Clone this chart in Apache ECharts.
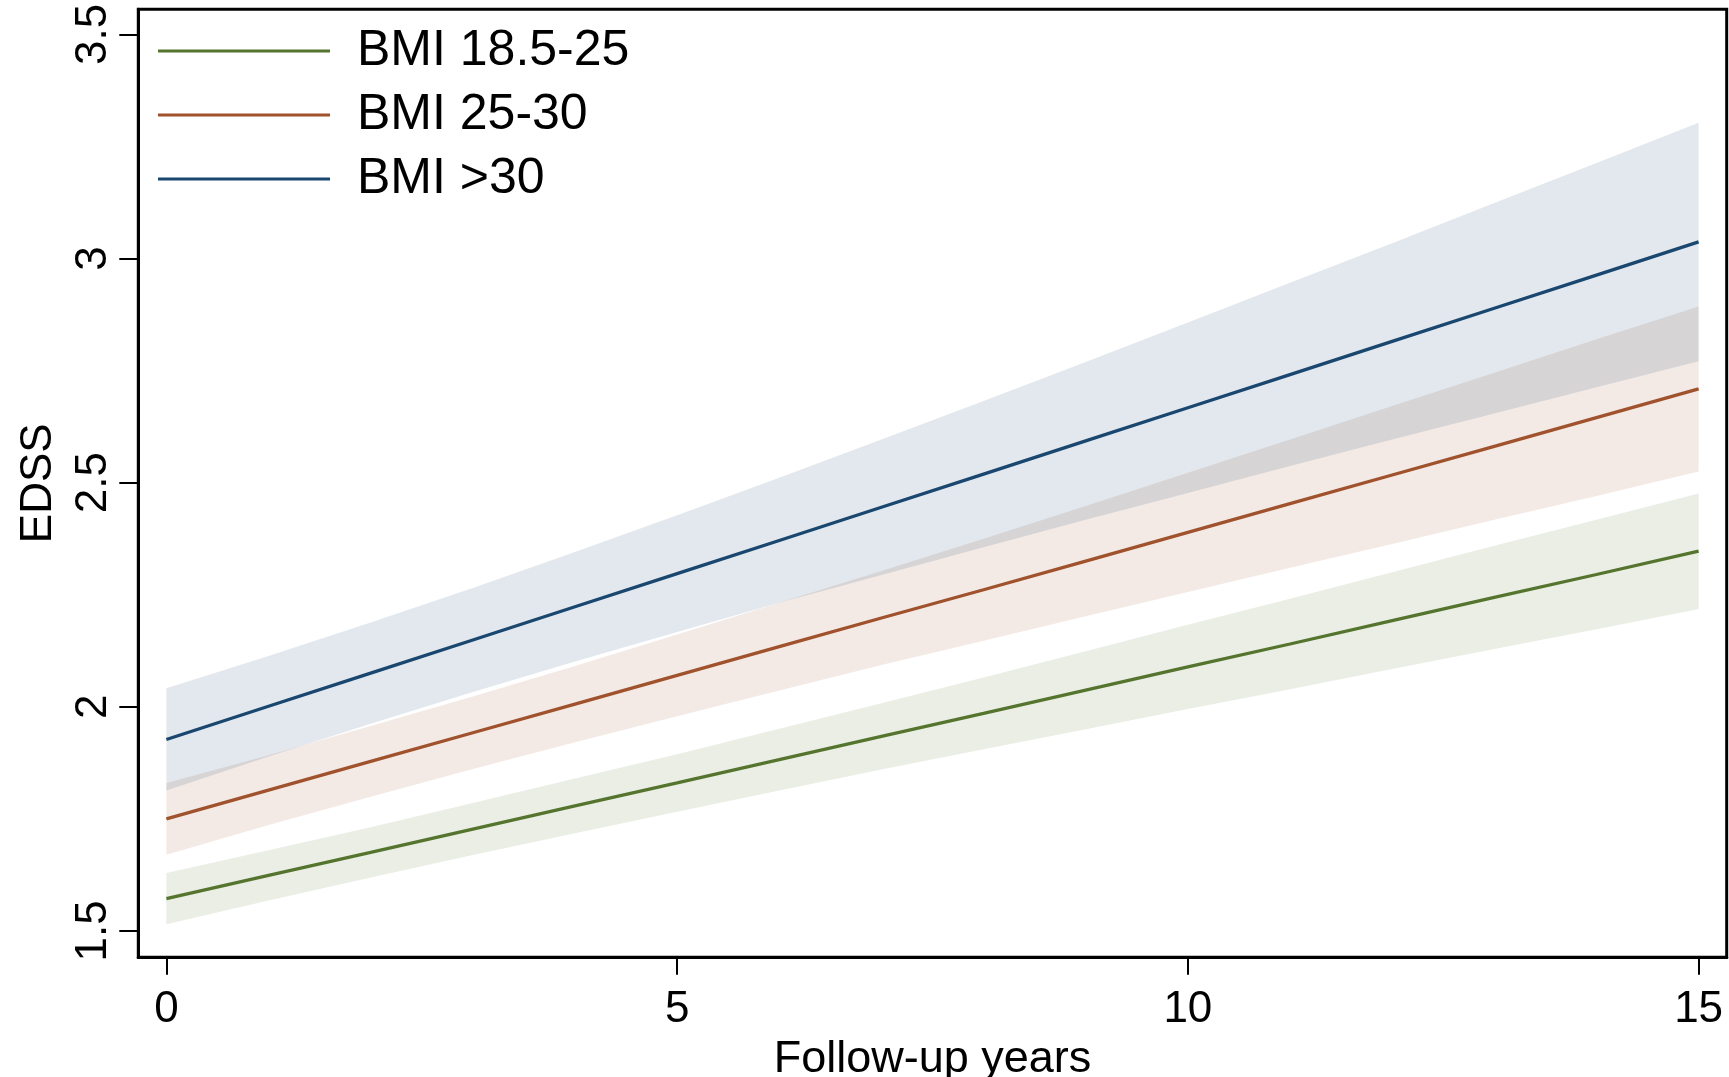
<!DOCTYPE html>
<html><head><meta charset="utf-8">
<script src="https://cdn.jsdelivr.net/npm/echarts@6/dist/echarts.min.js"></script>
<style>html,body{margin:0;padding:0;background:#fff}#c{width:1729px;height:1077px}</style>
</head><body><div id="c"></div>
<script>
// ---- data ----
const years = [0, 1, 2, 3, 4, 5, 6, 7, 8, 9, 10, 11, 12, 13, 14, 15];
const xTicks = [0, 5, 10, 15];
const yTicks = [1.5, 2, 2.5, 3, 3.5];
const seriesNames = ['BMI 18.5-25', 'BMI 25-30', 'BMI >30'];

const greenFit   = [1.572, 1.624, 1.675, 1.727, 1.779, 1.830, 1.882, 1.934, 1.985, 2.037, 2.089, 2.140, 2.192, 2.244, 2.295, 2.347];
const greenUpper = [1.629, 1.680, 1.731, 1.785, 1.840, 1.894, 1.951, 2.008, 2.065, 2.124, 2.183, 2.241, 2.300, 2.359, 2.417, 2.476];
const greenLower = [1.515, 1.568, 1.619, 1.669, 1.718, 1.766, 1.813, 1.860, 1.905, 1.950, 1.995, 2.039, 2.084, 2.129, 2.173, 2.218];

const orangeFit   = [1.750, 1.814, 1.878, 1.942, 2.006, 2.070, 2.134, 2.198, 2.261, 2.325, 2.389, 2.453, 2.517, 2.581, 2.645, 2.709];
const orangeUpper = [1.830, 1.892, 1.957, 2.023, 2.091, 2.161, 2.232, 2.303, 2.375, 2.448, 2.522, 2.596, 2.671, 2.745, 2.820, 2.893];
const orangeLower = [1.670, 1.736, 1.799, 1.861, 1.921, 1.979, 2.036, 2.093, 2.147, 2.202, 2.256, 2.310, 2.363, 2.417, 2.470, 2.525];

const blueFit   = [1.927, 2.001, 2.075, 2.149, 2.223, 2.297, 2.371, 2.445, 2.519, 2.593, 2.667, 2.741, 2.815, 2.889, 2.963, 3.037];
const blueUpper = [2.041, 2.113, 2.188, 2.265, 2.345, 2.427, 2.511, 2.596, 2.682, 2.769, 2.857, 2.946, 3.034, 3.124, 3.213, 3.303];
const blueLower = [1.813, 1.889, 1.962, 2.033, 2.101, 2.167, 2.232, 2.294, 2.356, 2.417, 2.477, 2.537, 2.596, 2.654, 2.713, 2.771];

// ---- styling ----
const FONT = '"Liberation Sans", Arial, Helvetica, sans-serif';
const GREEN = '#55752F', ORANGE = '#A0522D', BLUE = '#1A476F';
const GREEN_FILL = 'rgba(85,117,47,0.125)', ORANGE_FILL = 'rgba(160,82,45,0.125)', BLUE_FILL = 'rgba(26,71,111,0.125)';

function pairs(xs, ys) { return xs.map((x, i) => [x, ys[i]]); }
function band(lower, upper, fill) {
  return {
    type: 'custom', coordinateSystem: 'cartesian2d', silent: true, z: 1, clip: true,
    data: years.map((x, i) => [x, lower[i], upper[i]]),
    encode: { x: 0, y: [1, 2] },
    renderItem: function (params, api) {
      if (params.dataIndex !== 0) return null;
      const pts = [];
      for (let i = 0; i < years.length; i++) pts.push(api.coord([years[i], upper[i]]));
      for (let i = years.length - 1; i >= 0; i--) pts.push(api.coord([years[i], lower[i]]));
      return { type: 'polygon', shape: { points: pts }, style: { fill: fill, stroke: null } };
    }
  };
}
function fit(name, values, color) {
  return { type: 'line', name: name, data: pairs(years, values), symbol: 'none', color: color,
    lineStyle: { color: color, width: 3.3 }, z: 5, silent: true };
}

const chart = echarts.init(document.getElementById('c'), null, { renderer: 'canvas' });
chart.setOption({
  animation: false,
  backgroundColor: '#fff',
  textStyle: { fontFamily: FONT },
  grid: { left: 138.3, right: 2.3, top: 9.3, bottom: 119.7, show: true,
    borderColor: '#000', borderWidth: 3, containLabel: false, outerBoundsMode: 'none' },
  legend: {
    show: true, orient: 'vertical', left: 153, top: 21,
    itemWidth: 172, itemHeight: 3, itemGap: 14, icon: 'rect', selectedMode: false,
    data: seriesNames,
    textStyle: { fontSize: 50, color: '#000', lineHeight: 50, fontFamily: FONT, padding: [0, 0, 0, 22] }
  },
  xAxis: {
    type: 'value', min: -0.275, max: 15.275,
    axisLine: { show: true, onZero: false, lineStyle: { color: '#000', width: 3 } },
    axisTick: { show: true, length: 17.5, lineStyle: { color: '#000', width: 2 }, customValues: xTicks },
    axisLabel: { customValues: xTicks, fontSize: 44, color: '#000', margin: 31, fontFamily: FONT },
    splitLine: { show: false },
    name: 'Follow-up years', nameLocation: 'middle', nameGap: 57,
    nameTextStyle: { fontSize: 45, color: '#000', fontFamily: FONT }
  },
  yAxis: {
    type: 'value', min: 1.441, max: 3.556,
    axisLine: { show: true, onZero: false, lineStyle: { color: '#000', width: 3 } },
    axisTick: { show: true, length: 19, lineStyle: { color: '#000', width: 2 }, customValues: yTicks },
    axisLabel: { customValues: yTicks, rotate: 90, fontSize: 44, color: '#000', margin: 22, fontFamily: FONT },
    splitLine: { show: false },
    name: 'EDSS', nameLocation: 'middle', nameGap: 77, nameRotate: 90,
    nameTextStyle: { fontSize: 44, color: '#000', fontFamily: FONT }
  },
  series: [
    band(greenLower, greenUpper, GREEN_FILL),
    band(orangeLower, orangeUpper, ORANGE_FILL),
    band(blueLower, blueUpper, BLUE_FILL),
    fit(seriesNames[0], greenFit, GREEN),
    fit(seriesNames[1], orangeFit, ORANGE),
    fit(seriesNames[2], blueFit, BLUE)
  ]
});
</script>
</body></html>
